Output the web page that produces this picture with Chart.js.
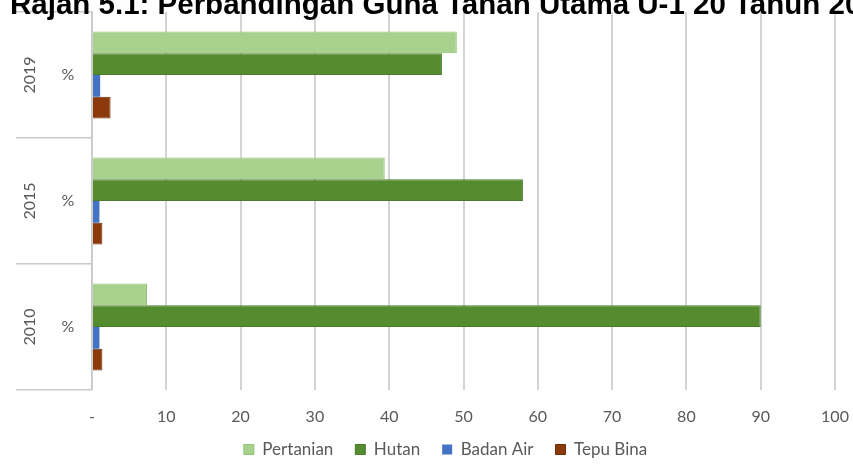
<!DOCTYPE html>
<html>
<head>
<meta charset="utf-8">
<script src="https://cdn.jsdelivr.net/npm/chart.js@4/dist/chart.umd.min.js"></script>
<style>
  html, body { margin:0; padding:0; background:#fff; overflow:hidden; }
  #wrap { position:relative; width:853px; height:468px; overflow:hidden; }
  #title { position:absolute; left:10px; top:-11px; font:bold 29.5px "Liberation Sans", Arial, sans-serif; line-height:29.5px; white-space:nowrap; color:#000; z-index:2; }
  canvas { position:absolute; left:0; top:0; }
</style>
</head>
<body>
<div id="wrap">
  <div id="title">Rajah 5.1: Perbandingan Guna Tanah Utama U-1 20 Tahun 2010-2019</div>
  <canvas id="c" width="853" height="468"></canvas>
</div>
<script>
const categories = ['2019', '2015', '2010'];
const innerLabels = ['%', '%', '%'];
const seriesNames = ['Pertanian', 'Hutan', 'Badan Air', 'Tepu Bina'];
const pertanian = [49.1, 39.4, 7.4];
const hutan = [47.1, 58.0, 90.0];
const badanAir = [1.1, 1.0, 1.0];
const tepuBina = [2.5, 1.4, 1.4];
const xTicks = [0, 10, 20, 30, 40, 50, 60, 70, 80, 90, 100];
const xTickLabels = ['-', '10', '20', '30', '40', '50', '60', '70', '80', '90', '100'];

const FONT = 'Lato, "Open Sans", sans-serif';
const TXT = '#595959';

const axisLabels = {
  id: 'axisLabels',
  afterLayout(chart) {
    const l = chart.legend;
    if (l) { l.left += 28; l.right += 28; }
  },
  afterDraw(chart) {
    const ctx = chart.ctx, y = chart.scales.y, x = chart.scales.x;
    ctx.save();
    ctx.fillStyle = TXT;
    ctx.font = '16px ' + FONT;
    ctx.textAlign = 'center';
    ctx.textBaseline = 'middle';
    categories.forEach((cat, i) => {
      const py = y.getPixelForValue(i);
      ctx.fillText(innerLabels[i], 68, py);
      ctx.save();
      ctx.translate(30, py);
      ctx.rotate(-Math.PI / 2);
      ctx.fillText(cat, 0, 0);
      ctx.restore();
    });
    xTicks.forEach((v, i) => {
      ctx.fillText(xTickLabels[i], x.getPixelForValue(v), chart.chartArea.bottom + 27);
    });
    ctx.restore();
  }
};

new Chart(document.getElementById('c'), {
  type: 'bar',
  data: {
    labels: categories,
    datasets: [
      { label: seriesNames[0], data: pertanian, backgroundColor: '#a9d18e', borderColor: '#93c173', borderWidth: 1 },
      { label: seriesNames[1], data: hutan, backgroundColor: '#548c2f', borderColor: '#4a7a2a', borderWidth: 1 },
      { label: seriesNames[2], data: badanAir, backgroundColor: '#4472c4', borderColor: '#3a62a8', borderWidth: 0 },
      { label: seriesNames[3], data: tepuBina, backgroundColor: '#8c3a0c', borderColor: '#6e2e09', borderWidth: 1 }
    ]
  },
  options: {
    indexAxis: 'y',
    responsive: false,
    animation: false,
    devicePixelRatio: 1,
    layout: { padding: { top: 12, right: 18, left: 0, bottom: 0 } },
    datasets: { bar: { categoryPercentage: 0.69, barPercentage: 1.0 } },
    scales: {
      x: {
        min: 0, max: 100,
        afterBuildTicks(s) { s.ticks = xTicks.map(v => ({ value: v })); },
        grid: { color: '#d4d4d4', lineWidth: 2, drawTicks: false },
        border: { display: false },
        ticks: { display: false },
        afterFit(s) { s.height = 29; }
      },
      y: {
        grid: { offset: true, drawOnChartArea: false, drawTicks: true, tickLength: 76, color: '#c8c8c8', lineWidth: 1.5 },
        border: { display: true, color: '#c8c8c8', width: 1.5 },
        ticks: { display: false },
        afterFit(s) { s.width = 92; }
      }
    },
    plugins: {
      legend: {
        position: 'bottom',
        labels: { color: TXT, font: { family: FONT, size: 17 }, boxWidth: 10, boxHeight: 10, padding: 22 }
      },
      tooltip: { enabled: false },
      title: { display: false }
    }
  },
  plugins: [axisLabels]
});
</script>
</body>
</html>
